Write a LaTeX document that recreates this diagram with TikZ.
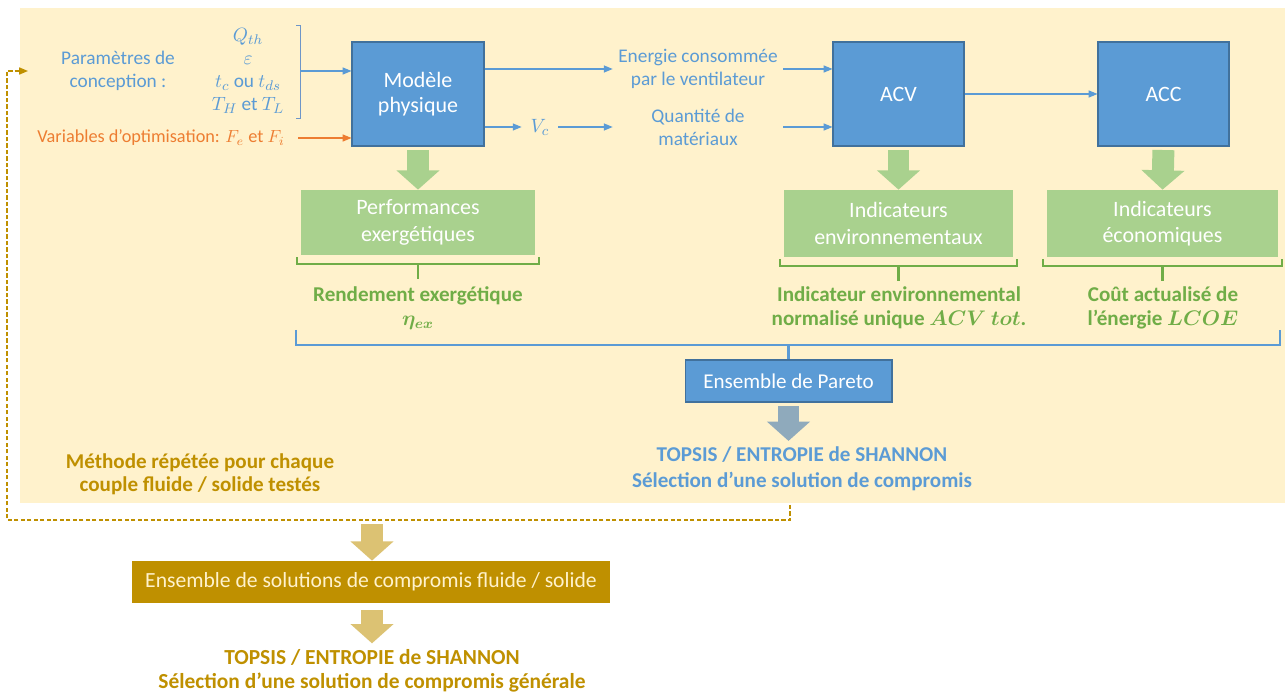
\documentclass[tikz,border=0pt]{standalone}
\usepackage{fontspec}
\usepackage{amsmath,bm}
\setmainfont{Carlito}
\usetikzlibrary{calc,arrows.meta,positioning}
\definecolor{fondJaune}{RGB}{255,242,204}
\definecolor{bleuBloc}{RGB}{91,155,213}
\definecolor{bleuBord}{RGB}{65,113,156}
\definecolor{bleuTrait}{RGB}{110,150,200}
\definecolor{orangeVar}{RGB}{237,125,49}
\definecolor{vertBloc}{RGB}{169,209,142}
\definecolor{vertFonce}{RGB}{112,173,71}
\definecolor{orFonce}{RGB}{191,144,0}
\definecolor{orClair}{RGB}{220,194,115}
\definecolor{grisBleu}{RGB}{143,170,188}

\begin{document}
\begin{tikzpicture}[x=0.02cm,y=-0.02cm,
  blocBleu/.style={draw=bleuBord,line width=.6pt,fill=bleuBloc,text=white,align=center,inner sep=0pt},
  blocVert/.style={fill=vertBloc,text=white,align=center,inner sep=0pt,font=\fontsize{12.5}{15}\selectfont},
  texteBleu/.style={text=bleuBloc,align=center,font=\fontsize{11}{13}\selectfont},
  texteVert/.style={text=vertFonce,align=center,font=\bfseries\fontsize{12}{13.6}\selectfont},
  fleche/.style={line width=.6pt,-{Triangle[length=5pt,width=4pt]}},
  grosseFleche/.style={line width=12.5pt,-{Triangle[length=11pt,width=24pt]}},
  accolade/.style={line width=1.3pt}]
  \useasboundingbox (0,0) rectangle (1285,695);
  % fond de la methode appliquee a un couple fluide / solide
  \fill[fondJaune] (20,8) rectangle (1285,503);

  % blocs de calcul
  \node[blocBleu,minimum width=2.64cm,minimum height=2.08cm,font=\fontsize{12.5}{14}\selectfont] (modele) at (418,94) {Modèle\\physique};
  \node[blocBleu,minimum width=2.62cm,minimum height=2.08cm,font=\fontsize{12.5}{14}\selectfont] (acv) at (898.5,94) {ACV};
  \node[blocBleu,minimum width=2.62cm,minimum height=2.08cm,font=\fontsize{12.5}{14}\selectfont] (acc) at (1163.5,94) {ACC};

  % entrees du modele
  \node[texteBleu] (param) at (118,71) {Paramètres de\\conception :};
  \node[texteBleu] (grandeurs) at (248,71) {$Q_{th}$\\$\varepsilon$\\$t_c$ ou $t_{ds}$\\$T_H$ et $T_L$};
  \draw[bleuTrait,line width=.5pt] (296,25) -- (300,25) -- (300,118) -- (296,118);
  \coordinate (entree) at (300,71);
  \draw[fleche,bleuBloc] (entree) -- (entree -| modele.west);
  \node[text=orangeVar,anchor=east,font=\fontsize{10.4}{13}\selectfont] (variables) at (291,138) {Variables d'optimisation: $F_e$ et $F_i$};
  \draw[fleche,orangeVar] ([xshift=4pt]variables.east) -- (variables.east -| modele.west);

  % sorties du modele
  \node[texteBleu,minimum width=3.4cm,inner sep=0pt] (energie) at (698,69) {Energie consommée\\par le ventilateur};
  \node[texteBleu,minimum width=3.4cm,inner sep=0pt] (quantite) at (698,127) {Quantité de\\matériaux};
  \node[texteBleu,inner sep=5pt] (vc) at (540,127) {$V_c$};
  \draw[fleche,bleuBloc] (energie.west -| modele.east) -- (energie.west);
  \draw[fleche,bleuBloc] (vc.west -| modele.east) -- (vc.west);
  \draw[fleche,bleuBloc] (vc.east) -- (quantite.west);
  \draw[fleche,bleuBloc] (energie.east) -- (energie.east -| acv.west);
  \draw[fleche,bleuBloc] (quantite.east) -- (quantite.east -| acv.west);
  \draw[fleche,bleuBloc] (acv.east) -- (acc.west);

  % indicateurs
  \node[blocVert,minimum width=4.68cm,minimum height=1.30cm] (perf) at (418,222.5) {Performances\\exergétiques};
  \node[blocVert,minimum width=4.58cm,minimum height=1.34cm] (env) at (898.5,223.5) {Indicateurs\\environnementaux};
  \node[blocVert,minimum width=4.62cm,minimum height=1.34cm] (eco) at (1162.5,223.5) {Indicateurs\\économiques};
  \draw[grosseFleche,vertBloc,shorten <=2pt] (modele.south) -- (perf.north);
  \draw[grosseFleche,vertBloc,shorten <=2pt] (acv.south) -- (env.north);
  \draw[grosseFleche,vertBloc,shorten <=2pt] (acc.south) -- (eco.north);
  \foreach \b in {perf,env,eco} {
    \draw[accolade,vertFonce] ($(\b.south west)+(-4,2)$) |- ($(\b.south east)+(4,9)$) -- ++(0,-7);
    \draw[accolade,vertFonce] ($(\b.south)+(0,9)$) -- ++(0,15);
  }
  \node[texteVert] (rendement) at (418,308) {Rendement exergétique\\$\bm{\eta_{ex}}$};
  \node[texteVert] (indEnv) at (899,308) {Indicateur environnemental\\normalisé unique $\bm{ACV\ tot}$.};
  \node[texteVert] (cout) at (1163,308) {Coût actualisé de\\l'énergie $\bm{LCOE}$};

  % front de Pareto et choix
  \node[blocBleu,minimum width=4.14cm,minimum height=0.84cm,font=\fontsize{12}{14}\selectfont] (pareto) at (788.5,381) {Ensemble de Pareto};
  \draw[accolade,bleuBloc] (296,330) |- (1280,345) -- ++(0,-15);
  \draw[accolade,bleuBloc] (pareto.north) -- ++(0,-15);
  \node[text=bleuBloc,align=center,font=\bfseries\fontsize{12}{14.6}\selectfont] (topsis) at (802,469) {TOPSIS / ENTROPIE de SHANNON\\Sélection d'une solution de compromis};
  \draw[grosseFleche,grisBleu,shorten <=2pt] (pareto.south) -- (pareto.south |- topsis.north);

  \node[text=orFonce,align=center,font=\bfseries\fontsize{12}{13.2}\selectfont] (methode) at (200,474) {Méthode répétée pour chaque\\couple fluide / solide testés};

  % boucle sur les couples fluide / solide
  \coordinate (depart) at (790,505);
  \coordinate (retour) at (28,71);
  \draw[orFonce,line width=.8pt,dash pattern=on 2.5pt off 1.2pt,-{Triangle[length=5pt,width=4pt]}] (depart) |- (7,520) |- (retour);

  % synthese finale
  \coordinate (sortie) at (372,524);
  \node[fill=orFonce,text=fondJaune,minimum width=9.56cm,minimum height=0.84cm,inner sep=0pt,font=\fontsize{12.3}{14}\selectfont] (ensemble) at (371,582) {Ensemble de solutions de compromis fluide / solide};
  \node[text=orFonce,align=center,font=\bfseries\fontsize{12.2}{13.8}\selectfont] (choix) at (372,671) {TOPSIS / ENTROPIE de SHANNON\\Sélection d'une solution de compromis générale};
  \draw[grosseFleche,orClair] (sortie) -- (sortie |- ensemble.north);
  \draw[grosseFleche,orClair,shorten <=4pt] (sortie |- ensemble.south) -- (sortie |- choix.north);
\end{tikzpicture}
\end{document}
